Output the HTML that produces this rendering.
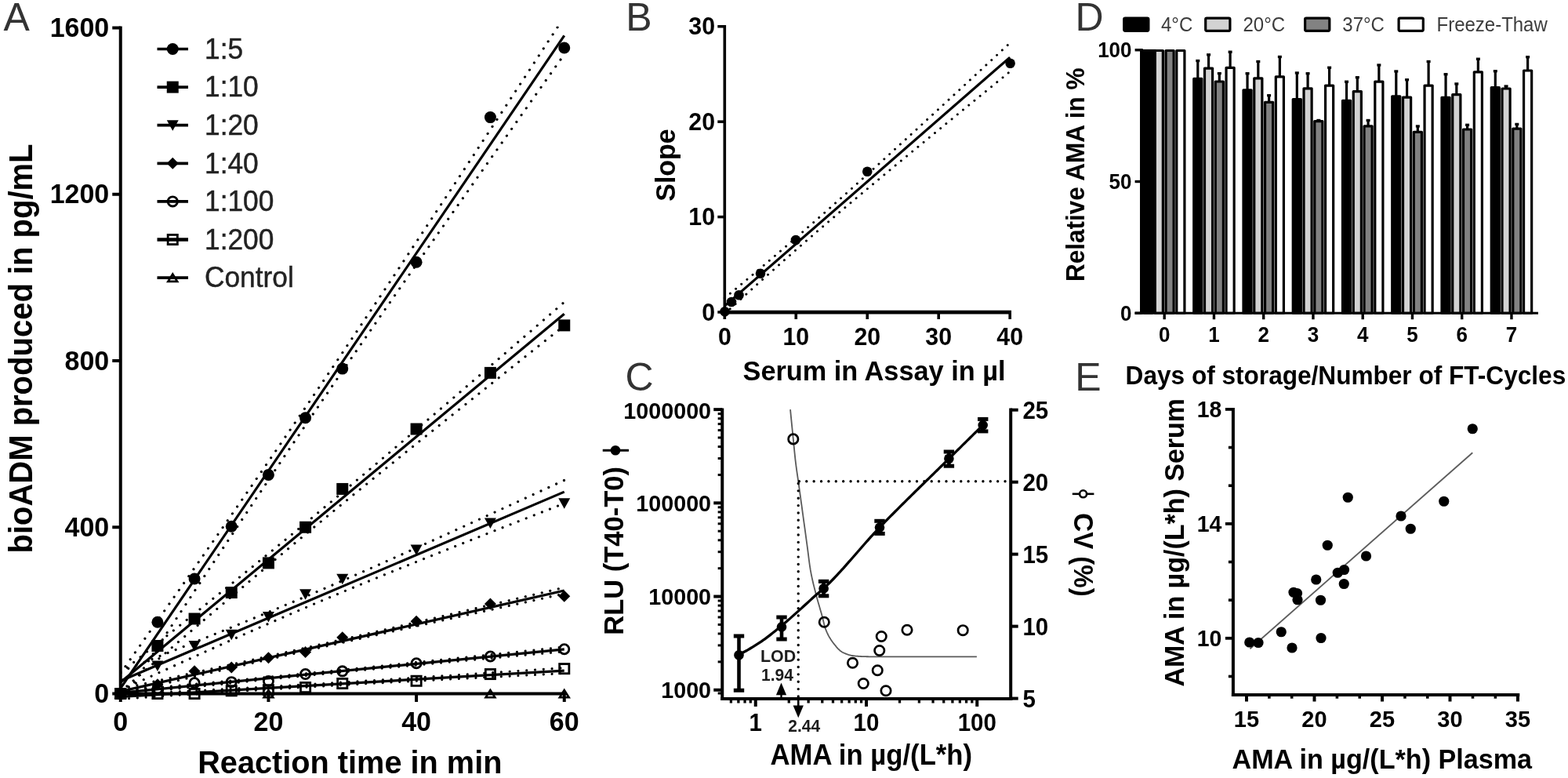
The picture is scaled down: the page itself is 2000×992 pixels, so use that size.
<!DOCTYPE html>
<html lang="en">
<head>
<meta charset="utf-8">
<title>Figure</title>
<style>
html,body{margin:0;padding:0;background:#fff;}
body{width:2000px;height:992px;overflow:hidden;}
svg{display:block;font-family:"Liberation Sans", sans-serif;filter:blur(0.6px);}
</style>
</head>
<body>
<svg width="2000" height="992" viewBox="0 0 2000 992">
<rect x="0" y="0" width="2000" height="992" fill="#fff"/>
<text transform="translate(4.50 39.30) scale(1 0.98)" font-size="50" text-anchor="start" fill="#333">A</text>
<text transform="translate(798.20 39.30) scale(1 0.98)" font-size="50" text-anchor="start" fill="#333">B</text>
<text transform="translate(797.50 497.80) scale(1 0.98)" font-size="50" text-anchor="start" fill="#333">C</text>
<text transform="translate(1371.50 39.30) scale(1 0.98)" font-size="50" text-anchor="start" fill="#333">D</text>
<text transform="translate(1371.30 498.30) scale(1 0.98)" font-size="50" text-anchor="start" fill="#333">E</text>
<clipPath id="clipA"><rect x="150" y="33.5" width="580" height="860"/></clipPath>
<g clip-path="url(#clipA)">
<polyline points="153.75,858.45 163.18,845.06 172.62,831.67 182.05,818.28 191.48,804.87 200.92,791.46 210.35,778.03 219.78,764.59 229.22,751.15 238.65,737.69 248.08,724.21 257.52,710.72 266.95,697.22 276.38,683.70 285.82,670.15 295.25,656.59 304.68,643.01 314.12,629.40 323.55,615.77 332.98,602.12 342.42,588.43 351.85,574.72 361.28,560.97 370.72,547.20 380.15,533.39 389.58,519.55 399.02,505.68 408.45,491.78 417.88,477.84 427.32,463.87 436.75,449.87 446.18,435.84 455.62,421.79 465.05,407.70 474.48,393.59 483.92,379.45 493.35,365.29 502.78,351.11 512.22,336.91 521.65,322.69 531.08,308.45 540.52,294.19 549.95,279.92 559.38,265.64 568.82,251.35 578.25,237.04 587.68,222.72 597.12,208.39 606.55,194.06 615.98,179.71 625.42,165.36 634.85,151.00 644.28,136.63 653.72,122.25 663.15,107.88 672.58,93.49 682.02,79.10 691.45,64.71 700.88,50.31 710.32,35.90 719.75,21.50" fill="none" stroke="#000" stroke-width="3.2" stroke-linecap="round" stroke-linejoin="round" stroke-dasharray="0.01 10.8"/>
<polyline points="153.75,896.99 163.18,882.63 172.62,868.28 182.05,853.93 191.48,839.59 200.92,825.27 210.35,810.95 219.78,796.64 229.22,782.34 238.65,768.06 248.08,753.79 257.52,739.54 266.95,725.30 276.38,711.08 285.82,696.88 295.25,682.70 304.68,668.54 314.12,654.40 323.55,640.29 332.98,626.20 342.42,612.14 351.85,598.11 361.28,584.11 370.72,570.15 380.15,556.21 389.58,542.30 399.02,528.43 408.45,514.59 417.88,500.79 427.32,487.01 436.75,473.27 446.18,459.56 455.62,445.87 465.05,432.21 474.48,418.58 483.92,404.98 493.35,391.39 502.78,377.83 512.22,364.29 521.65,350.77 531.08,337.26 540.52,323.77 549.95,310.30 559.38,296.84 568.82,283.39 578.25,269.96 587.68,256.53 597.12,243.12 606.55,229.71 615.98,216.31 625.42,202.92 634.85,189.54 644.28,176.16 653.72,162.79 663.15,149.43 672.58,136.07 682.02,122.72 691.45,109.37 700.88,96.03 710.32,82.69 719.75,69.35" fill="none" stroke="#000" stroke-width="3.2" stroke-linecap="round" stroke-linejoin="round" stroke-dasharray="0.01 10.8"/>
<line x1="153.75" y1="877.72" x2="719.75" y2="45.42" stroke="#000" stroke-width="3.2" stroke-linecap="butt"/>
<polyline points="153.75,857.90 163.18,850.38 172.62,842.85 182.05,835.32 191.48,827.79 200.92,820.24 210.35,812.69 219.78,805.14 229.22,797.57 238.65,790.00 248.08,782.42 257.52,774.83 266.95,767.24 276.38,759.63 285.82,752.00 295.25,744.37 304.68,736.72 314.12,729.06 323.55,721.38 332.98,713.69 342.42,705.97 351.85,698.24 361.28,690.50 370.72,682.73 380.15,674.94 389.58,667.13 399.02,659.30 408.45,651.45 417.88,643.59 427.32,635.70 436.75,627.79 446.18,619.86 455.62,611.91 465.05,603.95 474.48,595.97 483.92,587.98 493.35,579.97 502.78,571.94 512.22,563.91 521.65,555.86 531.08,547.80 540.52,539.74 549.95,531.66 559.38,523.57 568.82,515.48 578.25,507.38 587.68,499.27 597.12,491.15 606.55,483.03 615.98,474.91 625.42,466.78 634.85,458.64 644.28,450.50 653.72,442.36 663.15,434.21 672.58,426.06 682.02,417.91 691.45,409.75 700.88,401.60 710.32,393.43 719.75,385.27" fill="none" stroke="#000" stroke-width="3.2" stroke-linecap="round" stroke-linejoin="round" stroke-dasharray="0.01 10.8"/>
<polyline points="153.75,882.04 163.18,873.90 172.62,865.77 182.05,857.65 191.48,849.53 200.92,841.41 210.35,833.30 219.78,825.20 229.22,817.11 238.65,809.02 248.08,800.94 257.52,792.88 266.95,784.82 276.38,776.77 285.82,768.74 295.25,760.71 304.68,752.70 314.12,744.71 323.55,736.73 332.98,728.77 342.42,720.82 351.85,712.89 361.28,704.98 370.72,697.09 380.15,689.23 389.58,681.38 399.02,673.55 408.45,665.74 417.88,657.95 427.32,650.18 436.75,642.43 446.18,634.71 455.62,626.99 465.05,619.30 474.48,611.62 483.92,603.96 493.35,596.31 502.78,588.68 512.22,581.05 521.65,573.44 531.08,565.85 540.52,558.26 549.95,550.68 559.38,543.10 568.82,535.54 578.25,527.99 587.68,520.44 597.12,512.89 606.55,505.36 615.98,497.82 625.42,490.30 634.85,482.78 644.28,475.26 653.72,467.74 663.15,460.23 672.58,452.73 682.02,445.22 691.45,437.72 700.88,430.22 710.32,422.73 719.75,415.23" fill="none" stroke="#000" stroke-width="3.2" stroke-linecap="round" stroke-linejoin="round" stroke-dasharray="0.01 10.8"/>
<line x1="153.75" y1="869.97" x2="719.75" y2="400.25" stroke="#000" stroke-width="3.2" stroke-linecap="butt"/>
<polyline points="153.75,856.37 163.18,852.65 172.62,848.93 182.05,845.20 191.48,841.47 200.92,837.73 210.35,833.99 219.78,830.24 229.22,826.48 238.65,822.72 248.08,818.94 257.52,815.16 266.95,811.36 276.38,807.56 285.82,803.75 295.25,799.92 304.68,796.08 314.12,792.22 323.55,788.35 332.98,784.46 342.42,780.56 351.85,776.64 361.28,772.70 370.72,768.74 380.15,764.76 389.58,760.76 399.02,756.74 408.45,752.70 417.88,748.64 427.32,744.56 436.75,740.46 446.18,736.35 455.62,732.21 465.05,728.06 474.48,723.89 483.92,719.71 493.35,715.51 502.78,711.30 512.22,707.08 521.65,702.84 531.08,698.59 540.52,694.34 549.95,690.07 559.38,685.80 568.82,681.52 578.25,677.23 587.68,672.94 597.12,668.64 606.55,664.33 615.98,660.02 625.42,655.70 634.85,651.38 644.28,647.05 653.72,642.72 663.15,638.39 672.58,634.05 682.02,629.71 691.45,625.37 700.88,621.03 710.32,616.68 719.75,612.33" fill="none" stroke="#000" stroke-width="3.2" stroke-linecap="round" stroke-linejoin="round" stroke-dasharray="0.01 10.8"/>
<polyline points="153.75,880.17 163.18,875.85 172.62,871.53 182.05,867.22 191.48,862.91 200.92,858.61 210.35,854.31 219.78,850.03 229.22,845.74 238.65,841.47 248.08,837.21 257.52,832.95 266.95,828.70 276.38,824.47 285.82,820.25 295.25,816.04 304.68,811.84 314.12,807.65 323.55,803.49 332.98,799.33 342.42,795.20 351.85,791.08 361.28,786.98 370.72,782.91 380.15,778.85 389.58,774.81 399.02,770.79 408.45,766.79 417.88,762.81 427.32,758.85 436.75,754.91 446.18,750.99 455.62,747.08 465.05,743.20 474.48,739.32 483.92,735.47 493.35,731.63 502.78,727.80 512.22,723.98 521.65,720.18 531.08,716.39 540.52,712.60 549.95,708.83 559.38,705.06 568.82,701.31 578.25,697.56 587.68,693.81 597.12,690.08 606.55,686.34 615.98,682.62 625.42,678.89 634.85,675.18 644.28,671.46 653.72,667.76 663.15,664.05 672.58,660.35 682.02,656.65 691.45,652.95 700.88,649.26 710.32,645.57 719.75,641.88" fill="none" stroke="#000" stroke-width="3.2" stroke-linecap="round" stroke-linejoin="round" stroke-dasharray="0.01 10.8"/>
<line x1="153.75" y1="868.27" x2="719.75" y2="627.10" stroke="#000" stroke-width="3.2" stroke-linecap="butt"/>
<polyline points="153.75,878.38 163.18,876.32 172.62,874.26 182.05,872.19 191.48,870.13 200.92,868.06 210.35,866.00 219.78,863.93 229.22,861.85 238.65,859.78 248.08,857.71 257.52,855.63 266.95,853.55 276.38,851.46 285.82,849.37 295.25,847.28 304.68,845.19 314.12,843.09 323.55,840.99 332.98,838.88 342.42,836.77 351.85,834.65 361.28,832.53 370.72,830.41 380.15,828.28 389.58,826.14 399.02,823.99 408.45,821.85 417.88,819.69 427.32,817.53 436.75,815.37 446.18,813.20 455.62,811.03 465.05,808.85 474.48,806.66 483.92,804.48 493.35,802.28 502.78,800.09 512.22,797.89 521.65,795.69 531.08,793.49 540.52,791.28 549.95,789.07 559.38,786.86 568.82,784.64 578.25,782.43 587.68,780.21 597.12,777.99 606.55,775.77 615.98,773.54 625.42,771.32 634.85,769.10 644.28,766.87 653.72,764.64 663.15,762.41 672.58,760.18 682.02,757.95 691.45,755.72 700.88,753.49 710.32,751.26 719.75,749.03" fill="none" stroke="#000" stroke-width="3.2" stroke-linecap="round" stroke-linejoin="round" stroke-dasharray="0.01 10.8"/>
<polyline points="153.75,884.86 163.18,882.64 172.62,880.42 182.05,878.19 191.48,875.97 200.92,873.75 210.35,871.53 219.78,869.32 229.22,867.10 238.65,864.89 248.08,862.68 257.52,860.48 266.95,858.27 276.38,856.07 285.82,853.87 295.25,851.68 304.68,849.48 314.12,847.30 323.55,845.11 332.98,842.93 342.42,840.76 351.85,838.59 361.28,836.43 370.72,834.27 380.15,832.11 389.58,829.97 399.02,827.82 408.45,825.69 417.88,823.55 427.32,821.43 436.75,819.31 446.18,817.19 455.62,815.08 465.05,812.97 474.48,810.87 483.92,808.77 493.35,806.68 502.78,804.59 512.22,802.50 521.65,800.41 531.08,798.33 540.52,796.26 549.95,794.18 559.38,792.11 568.82,790.03 578.25,787.96 587.68,785.90 597.12,783.83 606.55,781.77 615.98,779.70 625.42,777.64 634.85,775.58 644.28,773.52 653.72,771.46 663.15,769.41 672.58,767.35 682.02,765.29 691.45,763.24 700.88,761.18 710.32,759.13 719.75,757.08" fill="none" stroke="#000" stroke-width="3.2" stroke-linecap="round" stroke-linejoin="round" stroke-dasharray="0.01 10.8"/>
<line x1="153.75" y1="881.62" x2="719.75" y2="753.05" stroke="#000" stroke-width="3.2" stroke-linecap="butt"/>
<polyline points="153.75,881.02 163.18,880.16 172.62,879.29 182.05,878.42 191.48,877.55 200.92,876.68 210.35,875.81 219.78,874.94 229.22,874.06 238.65,873.19 248.08,872.31 257.52,871.43 266.95,870.55 276.38,869.67 285.82,868.78 295.25,867.89 304.68,867.00 314.12,866.11 323.55,865.21 332.98,864.31 342.42,863.41 351.85,862.51 361.28,861.60 370.72,860.68 380.15,859.76 389.58,858.84 399.02,857.92 408.45,856.99 417.88,856.06 427.32,855.12 436.75,854.18 446.18,853.24 455.62,852.29 465.05,851.34 474.48,850.38 483.92,849.43 493.35,848.47 502.78,847.50 512.22,846.54 521.65,845.57 531.08,844.60 540.52,843.63 549.95,842.66 559.38,841.68 568.82,840.71 578.25,839.73 587.68,838.75 597.12,837.77 606.55,836.79 615.98,835.81 625.42,834.83 634.85,833.84 644.28,832.86 653.72,831.87 663.15,830.89 672.58,829.90 682.02,828.91 691.45,827.92 700.88,826.94 710.32,825.95 719.75,824.96" fill="none" stroke="#000" stroke-width="3.2" stroke-linecap="round" stroke-linejoin="round" stroke-dasharray="0.01 10.8"/>
<polyline points="153.75,885.65 163.18,884.67 172.62,883.68 182.05,882.70 191.48,881.72 200.92,880.74 210.35,879.76 219.78,878.78 229.22,877.81 238.65,876.83 248.08,875.86 257.52,874.89 266.95,873.92 276.38,872.95 285.82,871.99 295.25,871.03 304.68,870.07 314.12,869.11 323.55,868.16 332.98,867.21 342.42,866.26 351.85,865.31 361.28,864.37 370.72,863.44 380.15,862.50 389.58,861.57 399.02,860.65 408.45,859.73 417.88,858.81 427.32,857.90 436.75,856.99 446.18,856.08 455.62,855.18 465.05,854.28 474.48,853.38 483.92,852.49 493.35,851.60 502.78,850.71 512.22,849.83 521.65,848.94 531.08,848.06 540.52,847.18 549.95,846.30 559.38,845.43 568.82,844.55 578.25,843.68 587.68,842.81 597.12,841.94 606.55,841.07 615.98,840.20 625.42,839.34 634.85,838.47 644.28,837.60 653.72,836.74 663.15,835.87 672.58,835.01 682.02,834.15 691.45,833.29 700.88,832.42 710.32,831.56 719.75,830.70" fill="none" stroke="#000" stroke-width="3.2" stroke-linecap="round" stroke-linejoin="round" stroke-dasharray="0.01 10.8"/>
<line x1="153.75" y1="883.34" x2="719.75" y2="827.83" stroke="#000" stroke-width="3.2" stroke-linecap="butt"/>
<polyline points="153.75,885.66 163.18,885.17 172.62,884.68 182.05,884.20 191.48,883.71 200.92,883.22 210.35,882.72 219.78,882.23 229.22,881.73 238.65,881.24 248.08,880.74 257.52,880.24 266.95,879.73 276.38,879.23 285.82,878.72 295.25,878.21 304.68,877.69 314.12,877.17 323.55,876.65 332.98,876.12 342.42,875.59 351.85,875.06 361.28,874.52 370.72,873.98 380.15,873.43 389.58,872.88 399.02,872.32 408.45,871.76 417.88,871.19 427.32,870.62 436.75,870.05 446.18,869.47 455.62,868.88 465.05,868.30 474.48,867.70 483.92,867.11 493.35,866.51 502.78,865.91 512.22,865.30 521.65,864.69 531.08,864.08 540.52,863.47 549.95,862.86 559.38,862.24 568.82,861.62 578.25,861.00 587.68,860.38 597.12,859.76 606.55,859.13 615.98,858.51 625.42,857.88 634.85,857.25 644.28,856.62 653.72,855.99 663.15,855.36 672.58,854.73 682.02,854.10 691.45,853.46 700.88,852.83 710.32,852.20 719.75,851.56" fill="none" stroke="#000" stroke-width="3.2" stroke-linecap="round" stroke-linejoin="round" stroke-dasharray="0.01 10.8"/>
<polyline points="153.75,891.26 163.18,890.63 172.62,890.00 182.05,889.38 191.48,888.75 200.92,888.13 210.35,887.51 219.78,886.89 229.22,886.27 238.65,885.65 248.08,885.04 257.52,884.42 266.95,883.81 276.38,883.21 285.82,882.60 295.25,882.00 304.68,881.40 314.12,880.80 323.55,880.21 332.98,879.62 342.42,879.04 351.85,878.46 361.28,877.88 370.72,877.31 380.15,876.75 389.58,876.19 399.02,875.63 408.45,875.08 417.88,874.53 427.32,873.99 436.75,873.45 446.18,872.91 455.62,872.38 465.05,871.86 474.48,871.34 483.92,870.82 493.35,870.30 502.78,869.79 512.22,869.28 521.65,868.77 531.08,868.27 540.52,867.77 549.95,867.27 559.38,866.77 568.82,866.28 578.25,865.78 587.68,865.29 597.12,864.80 606.55,864.31 615.98,863.82 625.42,863.34 634.85,862.85 644.28,862.37 653.72,861.88 663.15,861.40 672.58,860.92 682.02,860.44 691.45,859.95 700.88,859.47 710.32,858.99 719.75,858.51" fill="none" stroke="#000" stroke-width="3.2" stroke-linecap="round" stroke-linejoin="round" stroke-dasharray="0.01 10.8"/>
<line x1="153.75" y1="888.46" x2="719.75" y2="855.04" stroke="#000" stroke-width="3.2" stroke-linecap="butt"/>
<line x1="153.75" y1="884.50" x2="719.75" y2="884.50" stroke="#000" stroke-width="3.2" stroke-linecap="butt"/>
</g>
<circle cx="153.75" cy="884.50" r="7.5" fill="#000" stroke="none" stroke-width="0"/>
<circle cx="200.92" cy="793.23" r="7.5" fill="#000" stroke="none" stroke-width="0"/>
<circle cx="248.08" cy="738.05" r="7.5" fill="#000" stroke="none" stroke-width="0"/>
<circle cx="295.25" cy="671.19" r="7.5" fill="#000" stroke="none" stroke-width="0"/>
<circle cx="342.42" cy="605.39" r="7.5" fill="#000" stroke="none" stroke-width="0"/>
<circle cx="389.58" cy="532.70" r="7.5" fill="#000" stroke="none" stroke-width="0"/>
<circle cx="436.75" cy="470.08" r="7.5" fill="#000" stroke="none" stroke-width="0"/>
<circle cx="531.08" cy="334.24" r="7.5" fill="#000" stroke="none" stroke-width="0"/>
<circle cx="625.42" cy="149.58" r="7.5" fill="#000" stroke="none" stroke-width="0"/>
<circle cx="719.75" cy="60.97" r="7.5" fill="#000" stroke="none" stroke-width="0"/>
<rect x="146.25" y="877.00" width="15.00" height="15.00" fill="#000" stroke="none" stroke-width="0" rx="0"/>
<rect x="193.42" y="815.98" width="15.00" height="15.00" fill="#000" stroke="none" stroke-width="0" rx="0"/>
<rect x="240.58" y="781.49" width="15.00" height="15.00" fill="#000" stroke="none" stroke-width="0" rx="0"/>
<rect x="287.75" y="748.06" width="15.00" height="15.00" fill="#000" stroke="none" stroke-width="0" rx="0"/>
<rect x="334.92" y="710.38" width="15.00" height="15.00" fill="#000" stroke="none" stroke-width="0" rx="0"/>
<rect x="382.08" y="664.75" width="15.00" height="15.00" fill="#000" stroke="none" stroke-width="0" rx="0"/>
<rect x="429.25" y="615.93" width="15.00" height="15.00" fill="#000" stroke="none" stroke-width="0" rx="0"/>
<rect x="523.58" y="539.52" width="15.00" height="15.00" fill="#000" stroke="none" stroke-width="0" rx="0"/>
<rect x="617.92" y="467.89" width="15.00" height="15.00" fill="#000" stroke="none" stroke-width="0" rx="0"/>
<rect x="712.25" y="407.40" width="15.00" height="15.00" fill="#000" stroke="none" stroke-width="0" rx="0"/>
<polygon points="146.25,878.12 161.25,878.12 153.75,891.62" fill="#000" stroke="none" stroke-width="0" stroke-linejoin="miter"/>
<polygon points="193.42,842.57 208.42,842.57 200.92,856.07" fill="#000" stroke="none" stroke-width="0" stroke-linejoin="miter"/>
<polygon points="240.58,817.10 255.58,817.10 248.08,830.60" fill="#000" stroke="none" stroke-width="0" stroke-linejoin="miter"/>
<polygon points="287.75,802.78 302.75,802.78 295.25,816.28" fill="#000" stroke="none" stroke-width="0" stroke-linejoin="miter"/>
<polygon points="334.92,779.96 349.92,779.96 342.42,793.46" fill="#000" stroke="none" stroke-width="0" stroke-linejoin="miter"/>
<polygon points="382.08,751.31 397.08,751.31 389.58,764.81" fill="#000" stroke="none" stroke-width="0" stroke-linejoin="miter"/>
<polygon points="429.25,731.67 444.25,731.67 436.75,745.17" fill="#000" stroke="none" stroke-width="0" stroke-linejoin="miter"/>
<polygon points="523.58,694.53 538.58,694.53 531.08,708.03" fill="#000" stroke="none" stroke-width="0" stroke-linejoin="miter"/>
<polygon points="617.92,660.57 632.92,660.57 625.42,674.07" fill="#000" stroke="none" stroke-width="0" stroke-linejoin="miter"/>
<polygon points="712.25,635.36 727.25,635.36 719.75,648.86" fill="#000" stroke="none" stroke-width="0" stroke-linejoin="miter"/>
<polygon points="146.25,884.50 153.75,877.00 161.25,884.50 153.75,892.00" fill="#000" stroke="none" stroke-width="0" stroke-linejoin="miter"/>
<polygon points="193.42,872.83 200.92,865.33 208.42,872.83 200.92,880.33" fill="#000" stroke="none" stroke-width="0" stroke-linejoin="miter"/>
<polygon points="240.58,855.85 248.08,848.35 255.58,855.85 248.08,863.35" fill="#000" stroke="none" stroke-width="0" stroke-linejoin="miter"/>
<polygon points="287.75,851.07 295.25,843.57 302.75,851.07 295.25,858.57" fill="#000" stroke="none" stroke-width="0" stroke-linejoin="miter"/>
<polygon points="334.92,838.87 342.42,831.37 349.92,838.87 342.42,846.37" fill="#000" stroke="none" stroke-width="0" stroke-linejoin="miter"/>
<polygon points="382.08,831.44 389.58,823.94 397.08,831.44 389.58,838.94" fill="#000" stroke="none" stroke-width="0" stroke-linejoin="miter"/>
<polygon points="429.25,812.87 436.75,805.37 444.25,812.87 436.75,820.37" fill="#000" stroke="none" stroke-width="0" stroke-linejoin="miter"/>
<polygon points="523.58,792.17 531.08,784.67 538.58,792.17 531.08,799.67" fill="#000" stroke="none" stroke-width="0" stroke-linejoin="miter"/>
<polygon points="617.92,769.88 625.42,762.38 632.92,769.88 625.42,777.38" fill="#000" stroke="none" stroke-width="0" stroke-linejoin="miter"/>
<polygon points="712.25,760.33 719.75,752.83 727.25,760.33 719.75,767.83" fill="#000" stroke="none" stroke-width="0" stroke-linejoin="miter"/>
<circle cx="153.75" cy="884.50" r="6.1" fill="none" stroke="#000" stroke-width="2.8"/>
<circle cx="200.92" cy="878.13" r="6.1" fill="none" stroke="#000" stroke-width="2.8"/>
<circle cx="248.08" cy="870.70" r="6.1" fill="none" stroke="#000" stroke-width="2.8"/>
<circle cx="295.25" cy="869.64" r="6.1" fill="none" stroke="#000" stroke-width="2.8"/>
<circle cx="342.42" cy="868.58" r="6.1" fill="none" stroke="#000" stroke-width="2.8"/>
<circle cx="389.58" cy="859.56" r="6.1" fill="none" stroke="#000" stroke-width="2.8"/>
<circle cx="436.75" cy="855.85" r="6.1" fill="none" stroke="#000" stroke-width="2.8"/>
<circle cx="531.08" cy="845.76" r="6.1" fill="none" stroke="#000" stroke-width="2.8"/>
<circle cx="625.42" cy="837.01" r="6.1" fill="none" stroke="#000" stroke-width="2.8"/>
<circle cx="719.75" cy="827.72" r="6.1" fill="none" stroke="#000" stroke-width="2.8"/>
<rect x="147.65" y="878.40" width="12.20" height="12.20" fill="none" stroke="#000" stroke-width="2.8" rx="0"/>
<rect x="194.82" y="878.40" width="12.20" height="12.20" fill="none" stroke="#000" stroke-width="2.8" rx="0"/>
<rect x="241.98" y="878.40" width="12.20" height="12.20" fill="none" stroke="#000" stroke-width="2.8" rx="0"/>
<rect x="289.15" y="874.69" width="12.20" height="12.20" fill="none" stroke="#000" stroke-width="2.8" rx="0"/>
<rect x="336.32" y="873.62" width="12.20" height="12.20" fill="none" stroke="#000" stroke-width="2.8" rx="0"/>
<rect x="383.48" y="870.44" width="12.20" height="12.20" fill="none" stroke="#000" stroke-width="2.8" rx="0"/>
<rect x="430.65" y="865.40" width="12.20" height="12.20" fill="none" stroke="#000" stroke-width="2.8" rx="0"/>
<rect x="524.98" y="862.16" width="12.20" height="12.20" fill="none" stroke="#000" stroke-width="2.8" rx="0"/>
<rect x="619.32" y="853.46" width="12.20" height="12.20" fill="none" stroke="#000" stroke-width="2.8" rx="0"/>
<rect x="713.65" y="846.56" width="12.20" height="12.20" fill="none" stroke="#000" stroke-width="2.8" rx="0"/>
<polygon points="147.85,889.30 159.65,889.30 153.75,879.95" fill="none" stroke="#000" stroke-width="2.6" stroke-linejoin="miter"/>
<polygon points="336.52,889.30 348.32,889.30 342.42,879.95" fill="none" stroke="#000" stroke-width="2.6" stroke-linejoin="miter"/>
<polygon points="619.52,889.30 631.32,889.30 625.42,879.95" fill="none" stroke="#000" stroke-width="2.6" stroke-linejoin="miter"/>
<polygon points="713.85,889.30 725.65,889.30 719.75,879.95" fill="none" stroke="#000" stroke-width="2.6" stroke-linejoin="miter"/>
<line x1="153.75" y1="33.50" x2="153.75" y2="886.50" stroke="#000" stroke-width="4" stroke-linecap="butt"/>
<line x1="151.75" y1="884.50" x2="721.75" y2="884.50" stroke="#000" stroke-width="4" stroke-linecap="butt"/>
<line x1="143.25" y1="884.50" x2="153.75" y2="884.50" stroke="#000" stroke-width="4" stroke-linecap="butt"/>
<text transform="translate(139.25 896.00) scale(1 1.04)" font-size="34" font-weight="bold" text-anchor="end" fill="#000">0</text>
<line x1="143.25" y1="672.25" x2="153.75" y2="672.25" stroke="#000" stroke-width="4" stroke-linecap="butt"/>
<text transform="translate(139.25 683.75) scale(1 1.04)" font-size="34" font-weight="bold" text-anchor="end" fill="#000">400</text>
<line x1="143.25" y1="460.00" x2="153.75" y2="460.00" stroke="#000" stroke-width="4" stroke-linecap="butt"/>
<text transform="translate(139.25 471.50) scale(1 1.04)" font-size="34" font-weight="bold" text-anchor="end" fill="#000">800</text>
<line x1="143.25" y1="247.75" x2="153.75" y2="247.75" stroke="#000" stroke-width="4" stroke-linecap="butt"/>
<text transform="translate(139.25 259.25) scale(1 1.04)" font-size="34" font-weight="bold" text-anchor="end" fill="#000">1200</text>
<line x1="143.25" y1="35.50" x2="153.75" y2="35.50" stroke="#000" stroke-width="4" stroke-linecap="butt"/>
<text transform="translate(139.25 47.00) scale(1 1.04)" font-size="34" font-weight="bold" text-anchor="end" fill="#000">1600</text>
<line x1="153.75" y1="884.50" x2="153.75" y2="895.00" stroke="#000" stroke-width="4" stroke-linecap="butt"/>
<text transform="translate(153.75 931.50) scale(1 1.04)" font-size="34" font-weight="bold" text-anchor="middle" fill="#000">0</text>
<line x1="342.42" y1="884.50" x2="342.42" y2="895.00" stroke="#000" stroke-width="4" stroke-linecap="butt"/>
<text transform="translate(342.42 931.50) scale(1 1.04)" font-size="34" font-weight="bold" text-anchor="middle" fill="#000">20</text>
<line x1="531.08" y1="884.50" x2="531.08" y2="895.00" stroke="#000" stroke-width="4" stroke-linecap="butt"/>
<text transform="translate(531.08 931.50) scale(1 1.04)" font-size="34" font-weight="bold" text-anchor="middle" fill="#000">40</text>
<line x1="719.75" y1="884.50" x2="719.75" y2="895.00" stroke="#000" stroke-width="4" stroke-linecap="butt"/>
<text transform="translate(719.75 931.50) scale(1 1.04)" font-size="34" font-weight="bold" text-anchor="middle" fill="#000">60</text>
<text transform="translate(41.00 444.50) rotate(-90) scale(1 1.04)" font-size="40" font-weight="bold" text-anchor="middle" fill="#000">bioADM produced in pg/mL</text>
<text transform="translate(446.30 986.40) scale(1 1.04)" font-size="39.7" font-weight="bold" text-anchor="middle" fill="#000">Reaction time in min</text>
<line x1="200.50" y1="62.50" x2="240.00" y2="62.50" stroke="#000" stroke-width="3.7" stroke-linecap="butt"/>
<circle cx="220.25" cy="62.50" r="7.5" fill="#000" stroke="none" stroke-width="0"/>
<text transform="translate(261.00 74.80) scale(1 1.025)" font-size="35.3" text-anchor="start" fill="#222" stroke="#222" stroke-width="0.45">1:5</text>
<line x1="200.50" y1="111.10" x2="240.00" y2="111.10" stroke="#000" stroke-width="3.7" stroke-linecap="butt"/>
<rect x="212.75" y="103.60" width="15.00" height="15.00" fill="#000" stroke="none" stroke-width="0" rx="0"/>
<text transform="translate(261.00 123.40) scale(1 1.025)" font-size="35.3" text-anchor="start" fill="#222" stroke="#222" stroke-width="0.45">1:10</text>
<line x1="200.50" y1="159.70" x2="240.00" y2="159.70" stroke="#000" stroke-width="3.7" stroke-linecap="butt"/>
<polygon points="212.75,153.32 227.75,153.32 220.25,166.82" fill="#000" stroke="none" stroke-width="0" stroke-linejoin="miter"/>
<text transform="translate(261.00 172.00) scale(1 1.025)" font-size="35.3" text-anchor="start" fill="#222" stroke="#222" stroke-width="0.45">1:20</text>
<line x1="200.50" y1="208.30" x2="240.00" y2="208.30" stroke="#000" stroke-width="3.7" stroke-linecap="butt"/>
<polygon points="212.75,208.30 220.25,200.80 227.75,208.30 220.25,215.80" fill="#000" stroke="none" stroke-width="0" stroke-linejoin="miter"/>
<text transform="translate(261.00 220.60) scale(1 1.025)" font-size="35.3" text-anchor="start" fill="#222" stroke="#222" stroke-width="0.45">1:40</text>
<line x1="200.50" y1="256.90" x2="240.00" y2="256.90" stroke="#000" stroke-width="3.7" stroke-linecap="butt"/>
<circle cx="220.25" cy="256.90" r="6.1" fill="none" stroke="#000" stroke-width="2.8"/>
<text transform="translate(261.00 269.20) scale(1 1.025)" font-size="35.3" text-anchor="start" fill="#222" stroke="#222" stroke-width="0.45">1:100</text>
<line x1="200.50" y1="305.50" x2="240.00" y2="305.50" stroke="#000" stroke-width="4.6" stroke-linecap="butt"/>
<rect x="214.15" y="299.40" width="12.20" height="12.20" fill="none" stroke="#000" stroke-width="2.8" rx="0"/>
<text transform="translate(261.00 317.80) scale(1 1.025)" font-size="35.3" text-anchor="start" fill="#222" stroke="#222" stroke-width="0.45">1:200</text>
<line x1="200.50" y1="354.10" x2="240.00" y2="354.10" stroke="#000" stroke-width="3.7" stroke-linecap="butt"/>
<polygon points="214.35,358.90 226.15,358.90 220.25,349.55" fill="none" stroke="#000" stroke-width="2.6" stroke-linejoin="miter"/>
<text transform="translate(261.00 366.40) scale(1 1.025)" font-size="35.3" text-anchor="start" fill="#222" stroke="#222" stroke-width="0.45">Control</text>
<polyline points="924.30,380.15 933.40,372.57 942.50,364.98 951.59,357.37 960.69,349.72 969.79,342.05 978.88,334.35 987.98,326.61 997.08,318.83 1006.18,311.02 1015.27,303.16 1024.37,295.26 1033.47,287.32 1042.57,279.33 1051.66,271.31 1060.76,263.24 1069.86,255.14 1078.96,247.00 1088.06,238.83 1097.15,230.62 1106.25,222.39 1115.35,214.14 1124.44,205.86 1133.54,197.57 1142.64,189.25 1151.74,180.92 1160.84,172.57 1169.93,164.21 1179.03,155.84 1188.13,147.46 1197.22,139.07 1206.32,130.68 1215.42,122.27 1224.52,113.86 1233.62,105.44 1242.71,97.01 1251.81,88.59 1260.91,80.15 1270.01,71.71 1279.10,63.27 1288.20,54.83" fill="none" stroke="#000" stroke-width="3.0" stroke-linecap="round" stroke-linejoin="round" stroke-dasharray="0.01 9.3"/>
<polyline points="924.30,400.16 933.40,391.88 942.50,383.62 951.59,375.38 960.69,367.17 969.79,358.99 978.88,350.84 987.98,342.73 997.08,334.65 1006.18,326.61 1015.27,318.62 1024.37,310.66 1033.47,302.75 1042.57,294.88 1051.66,287.05 1060.76,279.27 1069.86,271.52 1078.96,263.80 1088.06,256.12 1097.15,248.47 1106.25,240.85 1115.35,233.25 1124.44,225.67 1133.54,218.12 1142.64,210.58 1151.74,203.06 1160.84,195.55 1169.93,188.05 1179.03,180.57 1188.13,173.10 1197.22,165.64 1206.32,158.18 1215.42,150.73 1224.52,143.29 1233.62,135.86 1242.71,128.43 1251.81,121.00 1260.91,113.58 1270.01,106.17 1279.10,98.76 1288.20,91.35" fill="none" stroke="#000" stroke-width="3.0" stroke-linecap="round" stroke-linejoin="round" stroke-dasharray="0.01 9.3"/>
<line x1="924.30" y1="390.15" x2="1288.20" y2="73.09" stroke="#000" stroke-width="3.2" stroke-linecap="butt"/>
<circle cx="924.50" cy="397.25" r="6.3" fill="#000" stroke="none" stroke-width="0"/>
<circle cx="933.00" cy="385.00" r="6.3" fill="#000" stroke="none" stroke-width="0"/>
<circle cx="942.50" cy="376.25" r="6.3" fill="#000" stroke="none" stroke-width="0"/>
<circle cx="970.00" cy="348.75" r="6.3" fill="#000" stroke="none" stroke-width="0"/>
<circle cx="1015.00" cy="306.00" r="6.3" fill="#000" stroke="none" stroke-width="0"/>
<circle cx="1106.25" cy="218.75" r="6.3" fill="#000" stroke="none" stroke-width="0"/>
<circle cx="1288.60" cy="80.80" r="6.3" fill="#000" stroke="none" stroke-width="0"/>
<line x1="924.30" y1="32.00" x2="924.30" y2="400.40" stroke="#000" stroke-width="3.6" stroke-linecap="butt"/>
<line x1="922.50" y1="398.10" x2="1290.00" y2="398.10" stroke="#000" stroke-width="4.6" stroke-linecap="butt"/>
<line x1="915.30" y1="398.00" x2="924.30" y2="398.00" stroke="#000" stroke-width="3.5" stroke-linecap="butt"/>
<text transform="translate(912.00 408.60) scale(1 1.04)" font-size="30.3" font-weight="bold" text-anchor="end" fill="#000">0</text>
<line x1="915.30" y1="276.58" x2="924.30" y2="276.58" stroke="#000" stroke-width="3.5" stroke-linecap="butt"/>
<text transform="translate(912.00 287.18) scale(1 1.04)" font-size="30.3" font-weight="bold" text-anchor="end" fill="#000">10</text>
<line x1="915.30" y1="155.17" x2="924.30" y2="155.17" stroke="#000" stroke-width="3.5" stroke-linecap="butt"/>
<text transform="translate(912.00 165.77) scale(1 1.04)" font-size="30.3" font-weight="bold" text-anchor="end" fill="#000">20</text>
<line x1="915.30" y1="33.75" x2="924.30" y2="33.75" stroke="#000" stroke-width="3.5" stroke-linecap="butt"/>
<text transform="translate(912.00 44.35) scale(1 1.04)" font-size="30.3" font-weight="bold" text-anchor="end" fill="#000">30</text>
<line x1="924.30" y1="398.00" x2="924.30" y2="407.00" stroke="#000" stroke-width="3.6" stroke-linecap="butt"/>
<text transform="translate(924.30 439.60) scale(1 1.04)" font-size="30.3" font-weight="bold" text-anchor="middle" fill="#000">0</text>
<line x1="1015.27" y1="398.00" x2="1015.27" y2="407.00" stroke="#000" stroke-width="3.6" stroke-linecap="butt"/>
<text transform="translate(1015.27 439.60) scale(1 1.04)" font-size="30.3" font-weight="bold" text-anchor="middle" fill="#000">10</text>
<line x1="1106.25" y1="398.00" x2="1106.25" y2="407.00" stroke="#000" stroke-width="3.6" stroke-linecap="butt"/>
<text transform="translate(1106.25 439.60) scale(1 1.04)" font-size="30.3" font-weight="bold" text-anchor="middle" fill="#000">20</text>
<line x1="1197.22" y1="398.00" x2="1197.22" y2="407.00" stroke="#000" stroke-width="3.6" stroke-linecap="butt"/>
<text transform="translate(1197.22 439.60) scale(1 1.04)" font-size="30.3" font-weight="bold" text-anchor="middle" fill="#000">30</text>
<line x1="1288.20" y1="398.00" x2="1288.20" y2="407.00" stroke="#000" stroke-width="3.6" stroke-linecap="butt"/>
<text transform="translate(1288.20 439.60) scale(1 1.04)" font-size="30.3" font-weight="bold" text-anchor="middle" fill="#000">40</text>
<text transform="translate(861.00 210.50) rotate(-90) scale(1 1.04)" font-size="34" font-weight="bold" text-anchor="middle" fill="#000">Slope</text>
<text transform="translate(1115.00 485.00) scale(1 1.04)" font-size="34.3" font-weight="bold" text-anchor="middle" fill="#000">Serum in Assay in µl</text>
<polyline points="1008.05,522.20 1008.97,531.56 1009.89,540.84 1010.81,550.03 1011.72,559.14 1012.64,568.39 1013.56,577.69 1014.48,586.38 1015.40,593.93 1016.32,600.56 1017.23,606.78 1018.15,613.10 1019.07,619.69 1019.99,626.30 1020.91,632.92 1021.83,639.56 1022.74,646.21 1023.66,652.88 1024.58,659.56 1025.50,666.26 1026.42,672.97 1027.34,679.69 1028.25,686.42 1029.17,693.17 1030.09,699.93 1031.01,707.02 1031.93,714.33 1032.85,721.19 1033.76,726.92 1034.68,731.84 1035.60,736.34 1036.52,740.51 1037.44,744.42 1038.36,748.14 1039.27,751.75 1040.19,755.32 1041.11,758.91 1042.03,762.38 1042.95,765.71 1043.87,768.94 1044.78,772.10 1045.70,775.23 1046.62,778.38 1047.54,781.59 1048.46,784.88 1049.38,788.40 1050.29,792.20 1051.21,795.96 1052.13,799.37 1053.05,802.13 1053.97,804.41 1054.89,806.53 1055.80,808.49 1056.72,810.32 1057.64,812.02 1058.56,813.60 1059.48,815.08 1060.40,816.46 1061.31,817.77 1062.23,819.01 1063.15,820.22 1064.07,821.40 1064.99,822.56 1065.91,823.69 1066.82,824.78 1067.74,825.82 1068.66,826.82 1069.58,827.76 1070.50,828.64 1071.42,829.45 1072.33,830.19 1073.25,830.86 1074.17,831.45 1075.09,831.95 1076.01,832.38 1076.93,832.80 1077.84,833.20 1078.76,833.58 1079.68,833.94 1080.60,834.28 1081.52,834.60 1082.44,834.90 1083.35,835.17 1084.27,835.41 1085.19,835.63 1086.11,835.83 1087.03,835.99 1087.95,836.13 1088.86,836.24 1089.78,836.34 1090.70,836.44 1091.62,836.53 1092.54,836.62 1093.46,836.70 1094.37,836.77 1095.29,836.84 1096.21,836.91 1097.13,836.97 1098.05,837.02 1098.97,837.07 1099.88,837.11 1100.80,837.14 1101.72,837.17 1102.64,837.19 1103.56,837.21 1104.48,837.22 1105.39,837.24 1106.31,837.25 1107.23,837.27 1108.15,837.28 1109.07,837.29 1109.99,837.30 1110.90,837.31 1111.82,837.32 1112.74,837.33 1113.66,837.34 1114.58,837.35 1115.50,837.36 1116.41,837.37 1117.33,837.37 1118.25,837.38 1119.17,837.38 1120.09,837.39 1121.01,837.39 1121.92,837.40 1122.84,837.40 1123.76,837.40 1124.68,837.40 1125.60,837.40 1126.52,837.40 1127.43,837.40 1128.35,837.40 1129.27,837.40 1130.19,837.40 1131.11,837.40 1132.03,837.40 1132.94,837.40 1133.86,837.40 1134.78,837.40 1135.70,837.40 1136.62,837.40 1137.54,837.40 1138.45,837.40 1139.37,837.40 1140.29,837.40 1141.21,837.40 1142.13,837.40 1143.05,837.40 1143.96,837.40 1144.88,837.40 1145.80,837.40 1146.72,837.40 1147.64,837.40 1148.56,837.40 1149.47,837.40 1150.39,837.40 1151.31,837.40 1152.23,837.40 1153.15,837.40 1154.07,837.40 1154.98,837.40 1155.90,837.40 1156.82,837.40 1157.74,837.40 1158.66,837.40 1159.58,837.40 1160.49,837.40 1161.41,837.40 1162.33,837.40 1163.25,837.40 1164.17,837.40 1165.09,837.40 1166.00,837.40 1166.92,837.40 1167.84,837.40 1168.76,837.40 1169.68,837.40 1170.60,837.40 1171.51,837.40 1172.43,837.40 1173.35,837.40 1174.27,837.40 1175.19,837.40 1176.11,837.40 1177.02,837.40 1177.94,837.40 1178.86,837.40 1179.78,837.40 1180.70,837.40 1181.62,837.40 1182.53,837.40 1183.45,837.40 1184.37,837.40 1185.29,837.40 1186.21,837.40 1187.13,837.40 1188.04,837.40 1188.96,837.40 1189.88,837.40 1190.80,837.40 1191.72,837.40 1192.64,837.40 1193.55,837.40 1194.47,837.40 1195.39,837.40 1196.31,837.40 1197.23,837.40 1198.15,837.40 1199.06,837.40 1199.98,837.40 1200.90,837.40 1201.82,837.40 1202.74,837.40 1203.66,837.40 1204.57,837.40 1205.49,837.40 1206.41,837.40 1207.33,837.40 1208.25,837.40 1209.17,837.40 1210.08,837.40 1211.00,837.40 1211.92,837.40 1212.84,837.40 1213.76,837.40 1214.68,837.40 1215.59,837.40 1216.51,837.40 1217.43,837.40 1218.35,837.40 1219.27,837.40 1220.19,837.40 1221.10,837.40 1222.02,837.40 1222.94,837.40 1223.86,837.40 1224.78,837.40 1225.70,837.40 1226.61,837.40 1227.53,837.40 1228.45,837.40 1229.37,837.40 1230.29,837.40 1231.21,837.40 1232.12,837.40 1233.04,837.40 1233.96,837.40 1234.88,837.40 1235.80,837.40 1236.72,837.40 1237.63,837.40 1238.55,837.40 1239.47,837.40 1240.39,837.40 1241.31,837.40 1242.23,837.40 1243.14,837.40 1244.06,837.40 1244.98,837.40 1245.90,837.40" fill="none" stroke="#5a5a5a" stroke-width="1.8" stroke-linecap="butt" stroke-linejoin="round"/>
<line x1="1018.25" y1="616.50" x2="1018.25" y2="890.00" stroke="#000" stroke-width="3.4" stroke-linecap="round" stroke-dasharray="0.01 9.35"/>
<line x1="1019.40" y1="613.80" x2="1289.00" y2="613.80" stroke="#000" stroke-width="3.4" stroke-linecap="round" stroke-dasharray="0.01 9.37"/>
<polyline points="942.20,834.80 944.16,833.83 946.12,832.84 948.08,831.81 950.04,830.76 952.00,829.68 953.95,828.58 955.91,827.45 957.87,826.29 959.83,825.11 961.79,823.91 963.75,822.68 965.71,821.43 967.67,820.17 969.63,818.88 971.59,817.56 973.55,816.20 975.51,814.80 977.46,813.37 979.42,811.90 981.38,810.40 983.34,808.87 985.30,807.32 987.26,805.76 989.22,804.17 991.18,802.58 993.14,800.97 995.10,799.37 997.06,797.75 999.01,796.13 1000.97,794.47 1002.93,792.79 1004.89,791.09 1006.85,789.37 1008.81,787.63 1010.77,785.89 1012.73,784.14 1014.69,782.38 1016.65,780.63 1018.61,778.88 1020.56,777.13 1022.52,775.36 1024.48,773.58 1026.44,771.79 1028.40,769.99 1030.36,768.19 1032.32,766.40 1034.28,764.61 1036.24,762.83 1038.20,761.07 1040.16,759.32 1042.12,757.60 1044.07,755.93 1046.03,754.31 1047.99,752.68 1049.95,750.97 1051.91,749.16 1053.87,747.30 1055.83,745.41 1057.79,743.47 1059.75,741.51 1061.71,739.51 1063.67,737.48 1065.62,735.42 1067.58,733.34 1069.54,731.23 1071.50,729.10 1073.46,726.95 1075.42,724.78 1077.38,722.59 1079.34,720.39 1081.30,718.18 1083.26,715.95 1085.22,713.72 1087.17,711.47 1089.13,709.23 1091.09,706.98 1093.05,704.72 1095.01,702.47 1096.97,700.22 1098.93,697.98 1100.89,695.74 1102.85,693.50 1104.81,691.28 1106.77,689.07 1108.73,686.88 1110.68,684.69 1112.64,682.53 1114.60,680.39 1116.56,678.26 1118.52,676.17 1120.48,674.09 1122.44,672.04 1124.40,670.01 1126.36,667.98 1128.32,665.97 1130.28,663.95 1132.23,661.95 1134.19,659.95 1136.15,657.96 1138.11,655.98 1140.07,654.00 1142.03,652.03 1143.99,650.06 1145.95,648.10 1147.91,646.15 1149.87,644.19 1151.83,642.25 1153.78,640.30 1155.74,638.36 1157.70,636.43 1159.66,634.50 1161.62,632.57 1163.58,630.64 1165.54,628.72 1167.50,626.80 1169.46,624.88 1171.42,622.96 1173.38,621.05 1175.34,619.13 1177.29,617.22 1179.25,615.31 1181.21,613.40 1183.17,611.48 1185.13,609.57 1187.09,607.66 1189.05,605.75 1191.01,603.84 1192.97,601.92 1194.93,600.01 1196.89,598.09 1198.84,596.17 1200.80,594.25 1202.76,592.33 1204.72,590.40 1206.68,588.47 1208.64,586.54 1210.60,584.60 1212.56,582.67 1214.52,580.73 1216.48,578.79 1218.44,576.86 1220.39,574.92 1222.35,572.99 1224.31,571.06 1226.27,569.12 1228.23,567.19 1230.19,565.26 1232.15,563.33 1234.11,561.40 1236.07,559.46 1238.03,557.53 1239.99,555.60 1241.95,553.67 1243.90,551.74 1245.86,549.81 1247.82,547.89 1249.78,545.96 1251.74,544.03 1253.70,542.10" fill="none" stroke="#000" stroke-width="3.3" stroke-linecap="butt" stroke-linejoin="round"/>
<line x1="942.50" y1="811.00" x2="942.50" y2="880.25" stroke="#000" stroke-width="4.6" stroke-linecap="butt"/>
<line x1="935.80" y1="811.00" x2="949.20" y2="811.00" stroke="#000" stroke-width="5.0" stroke-linecap="butt"/>
<line x1="935.80" y1="880.25" x2="949.20" y2="880.25" stroke="#000" stroke-width="5.0" stroke-linecap="butt"/>
<circle cx="942.50" cy="835.25" r="6.3" fill="#000" stroke="none" stroke-width="0"/>
<line x1="997.00" y1="787.00" x2="997.00" y2="815.00" stroke="#000" stroke-width="4.6" stroke-linecap="butt"/>
<line x1="990.30" y1="787.00" x2="1003.70" y2="787.00" stroke="#000" stroke-width="5.0" stroke-linecap="butt"/>
<line x1="990.30" y1="815.00" x2="1003.70" y2="815.00" stroke="#000" stroke-width="5.0" stroke-linecap="butt"/>
<circle cx="997.00" cy="799.40" r="6.3" fill="#000" stroke="none" stroke-width="0"/>
<line x1="1050.60" y1="741.30" x2="1050.60" y2="759.80" stroke="#000" stroke-width="4.6" stroke-linecap="butt"/>
<line x1="1043.90" y1="741.30" x2="1057.30" y2="741.30" stroke="#000" stroke-width="5.0" stroke-linecap="butt"/>
<line x1="1043.90" y1="759.80" x2="1057.30" y2="759.80" stroke="#000" stroke-width="5.0" stroke-linecap="butt"/>
<circle cx="1050.60" cy="750.40" r="6.3" fill="#000" stroke="none" stroke-width="0"/>
<line x1="1122.00" y1="664.30" x2="1122.00" y2="680.40" stroke="#000" stroke-width="4.6" stroke-linecap="butt"/>
<line x1="1115.30" y1="664.30" x2="1128.70" y2="664.30" stroke="#000" stroke-width="5.0" stroke-linecap="butt"/>
<line x1="1115.30" y1="680.40" x2="1128.70" y2="680.40" stroke="#000" stroke-width="5.0" stroke-linecap="butt"/>
<circle cx="1122.00" cy="672.60" r="6.3" fill="#000" stroke="none" stroke-width="0"/>
<line x1="1210.40" y1="576.00" x2="1210.40" y2="594.20" stroke="#000" stroke-width="4.6" stroke-linecap="butt"/>
<line x1="1203.70" y1="576.00" x2="1217.10" y2="576.00" stroke="#000" stroke-width="5.0" stroke-linecap="butt"/>
<line x1="1203.70" y1="594.20" x2="1217.10" y2="594.20" stroke="#000" stroke-width="5.0" stroke-linecap="butt"/>
<circle cx="1210.40" cy="584.80" r="6.3" fill="#000" stroke="none" stroke-width="0"/>
<line x1="1253.70" y1="534.40" x2="1253.70" y2="549.90" stroke="#000" stroke-width="4.6" stroke-linecap="butt"/>
<line x1="1247.00" y1="534.40" x2="1260.40" y2="534.40" stroke="#000" stroke-width="5.0" stroke-linecap="butt"/>
<line x1="1247.00" y1="549.90" x2="1260.40" y2="549.90" stroke="#000" stroke-width="5.0" stroke-linecap="butt"/>
<circle cx="1253.70" cy="542.10" r="6.3" fill="#000" stroke="none" stroke-width="0"/>
<circle cx="1011.80" cy="559.90" r="6.2" fill="none" stroke="#000" stroke-width="2.7"/>
<circle cx="1051.25" cy="793.25" r="6.2" fill="none" stroke="#000" stroke-width="2.7"/>
<circle cx="1087.50" cy="845.25" r="6.2" fill="none" stroke="#000" stroke-width="2.7"/>
<circle cx="1101.25" cy="871.50" r="6.2" fill="none" stroke="#000" stroke-width="2.7"/>
<circle cx="1119.25" cy="854.75" r="6.2" fill="none" stroke="#000" stroke-width="2.7"/>
<circle cx="1121.75" cy="829.50" r="6.2" fill="none" stroke="#000" stroke-width="2.7"/>
<circle cx="1124.25" cy="811.50" r="6.2" fill="none" stroke="#000" stroke-width="2.7"/>
<circle cx="1130.00" cy="880.75" r="6.2" fill="none" stroke="#000" stroke-width="2.7"/>
<circle cx="1157.00" cy="803.25" r="6.2" fill="none" stroke="#000" stroke-width="2.7"/>
<circle cx="1228.20" cy="803.70" r="6.2" fill="none" stroke="#000" stroke-width="2.7"/>
<line x1="921.25" y1="520.40" x2="921.25" y2="892.90" stroke="#000" stroke-width="4" stroke-linecap="butt"/>
<line x1="1289.20" y1="520.60" x2="1289.20" y2="892.90" stroke="#000" stroke-width="4" stroke-linecap="butt"/>
<line x1="919.25" y1="890.90" x2="1291.20" y2="890.90" stroke="#000" stroke-width="4" stroke-linecap="butt"/>
<line x1="910.25" y1="879.75" x2="921.25" y2="879.75" stroke="#000" stroke-width="4" stroke-linecap="butt"/>
<text transform="translate(907.05 890.25) scale(1 1.04)" font-size="28.7" font-weight="bold" text-anchor="end" fill="#000">1000</text>
<line x1="915.65" y1="843.87" x2="921.25" y2="843.87" stroke="#000" stroke-width="3.0" stroke-linecap="butt"/>
<line x1="915.65" y1="822.88" x2="921.25" y2="822.88" stroke="#000" stroke-width="3.0" stroke-linecap="butt"/>
<line x1="915.65" y1="807.98" x2="921.25" y2="807.98" stroke="#000" stroke-width="3.0" stroke-linecap="butt"/>
<line x1="915.65" y1="796.43" x2="921.25" y2="796.43" stroke="#000" stroke-width="3.0" stroke-linecap="butt"/>
<line x1="915.65" y1="786.99" x2="921.25" y2="786.99" stroke="#000" stroke-width="3.0" stroke-linecap="butt"/>
<line x1="915.65" y1="779.01" x2="921.25" y2="779.01" stroke="#000" stroke-width="3.0" stroke-linecap="butt"/>
<line x1="915.65" y1="772.10" x2="921.25" y2="772.10" stroke="#000" stroke-width="3.0" stroke-linecap="butt"/>
<line x1="915.65" y1="766.00" x2="921.25" y2="766.00" stroke="#000" stroke-width="3.0" stroke-linecap="butt"/>
<line x1="910.25" y1="760.55" x2="921.25" y2="760.55" stroke="#000" stroke-width="4" stroke-linecap="butt"/>
<text transform="translate(907.05 771.05) scale(1 1.04)" font-size="28.7" font-weight="bold" text-anchor="end" fill="#000">10000</text>
<line x1="915.65" y1="724.67" x2="921.25" y2="724.67" stroke="#000" stroke-width="3.0" stroke-linecap="butt"/>
<line x1="915.65" y1="703.68" x2="921.25" y2="703.68" stroke="#000" stroke-width="3.0" stroke-linecap="butt"/>
<line x1="915.65" y1="688.78" x2="921.25" y2="688.78" stroke="#000" stroke-width="3.0" stroke-linecap="butt"/>
<line x1="915.65" y1="677.23" x2="921.25" y2="677.23" stroke="#000" stroke-width="3.0" stroke-linecap="butt"/>
<line x1="915.65" y1="667.79" x2="921.25" y2="667.79" stroke="#000" stroke-width="3.0" stroke-linecap="butt"/>
<line x1="915.65" y1="659.81" x2="921.25" y2="659.81" stroke="#000" stroke-width="3.0" stroke-linecap="butt"/>
<line x1="915.65" y1="652.90" x2="921.25" y2="652.90" stroke="#000" stroke-width="3.0" stroke-linecap="butt"/>
<line x1="915.65" y1="646.80" x2="921.25" y2="646.80" stroke="#000" stroke-width="3.0" stroke-linecap="butt"/>
<line x1="910.25" y1="641.35" x2="921.25" y2="641.35" stroke="#000" stroke-width="4" stroke-linecap="butt"/>
<text transform="translate(907.05 651.85) scale(1 1.04)" font-size="28.7" font-weight="bold" text-anchor="end" fill="#000">100000</text>
<line x1="915.65" y1="605.47" x2="921.25" y2="605.47" stroke="#000" stroke-width="3.0" stroke-linecap="butt"/>
<line x1="915.65" y1="584.48" x2="921.25" y2="584.48" stroke="#000" stroke-width="3.0" stroke-linecap="butt"/>
<line x1="915.65" y1="569.58" x2="921.25" y2="569.58" stroke="#000" stroke-width="3.0" stroke-linecap="butt"/>
<line x1="915.65" y1="558.03" x2="921.25" y2="558.03" stroke="#000" stroke-width="3.0" stroke-linecap="butt"/>
<line x1="915.65" y1="548.59" x2="921.25" y2="548.59" stroke="#000" stroke-width="3.0" stroke-linecap="butt"/>
<line x1="915.65" y1="540.61" x2="921.25" y2="540.61" stroke="#000" stroke-width="3.0" stroke-linecap="butt"/>
<line x1="915.65" y1="533.70" x2="921.25" y2="533.70" stroke="#000" stroke-width="3.0" stroke-linecap="butt"/>
<line x1="915.65" y1="527.60" x2="921.25" y2="527.60" stroke="#000" stroke-width="3.0" stroke-linecap="butt"/>
<line x1="910.25" y1="522.15" x2="921.25" y2="522.15" stroke="#000" stroke-width="4" stroke-linecap="butt"/>
<text transform="translate(907.05 533.65) scale(1 1.04)" font-size="28.7" font-weight="bold" text-anchor="end" fill="#000">1000000</text>
<line x1="915.65" y1="884.00" x2="921.25" y2="884.00" stroke="#000" stroke-width="3.0" stroke-linecap="butt"/>
<line x1="963.75" y1="890.90" x2="963.75" y2="900.90" stroke="#000" stroke-width="4" stroke-linecap="butt"/>
<text transform="translate(963.75 932.00) scale(1 1.04)" font-size="29.5" font-weight="bold" text-anchor="middle" fill="#000">1</text>
<line x1="1105.00" y1="890.90" x2="1105.00" y2="900.90" stroke="#000" stroke-width="4" stroke-linecap="butt"/>
<text transform="translate(1105.00 932.00) scale(1 1.04)" font-size="29.5" font-weight="bold" text-anchor="middle" fill="#000">10</text>
<line x1="1246.25" y1="890.90" x2="1246.25" y2="900.90" stroke="#000" stroke-width="4" stroke-linecap="butt"/>
<text transform="translate(1246.25 932.00) scale(1 1.04)" font-size="29.5" font-weight="bold" text-anchor="middle" fill="#000">100</text>
<line x1="932.41" y1="890.90" x2="932.41" y2="896.50" stroke="#000" stroke-width="3.3" stroke-linecap="butt"/>
<line x1="941.87" y1="890.90" x2="941.87" y2="896.50" stroke="#000" stroke-width="3.3" stroke-linecap="butt"/>
<line x1="950.06" y1="890.90" x2="950.06" y2="896.50" stroke="#000" stroke-width="3.3" stroke-linecap="butt"/>
<line x1="957.29" y1="890.90" x2="957.29" y2="896.50" stroke="#000" stroke-width="3.3" stroke-linecap="butt"/>
<line x1="1006.27" y1="890.90" x2="1006.27" y2="896.50" stroke="#000" stroke-width="3.3" stroke-linecap="butt"/>
<line x1="1031.14" y1="890.90" x2="1031.14" y2="896.50" stroke="#000" stroke-width="3.3" stroke-linecap="butt"/>
<line x1="1048.79" y1="890.90" x2="1048.79" y2="896.50" stroke="#000" stroke-width="3.3" stroke-linecap="butt"/>
<line x1="1062.48" y1="890.90" x2="1062.48" y2="896.50" stroke="#000" stroke-width="3.3" stroke-linecap="butt"/>
<line x1="1073.66" y1="890.90" x2="1073.66" y2="896.50" stroke="#000" stroke-width="3.3" stroke-linecap="butt"/>
<line x1="1083.12" y1="890.90" x2="1083.12" y2="896.50" stroke="#000" stroke-width="3.3" stroke-linecap="butt"/>
<line x1="1091.31" y1="890.90" x2="1091.31" y2="896.50" stroke="#000" stroke-width="3.3" stroke-linecap="butt"/>
<line x1="1098.54" y1="890.90" x2="1098.54" y2="896.50" stroke="#000" stroke-width="3.3" stroke-linecap="butt"/>
<line x1="1147.52" y1="890.90" x2="1147.52" y2="896.50" stroke="#000" stroke-width="3.3" stroke-linecap="butt"/>
<line x1="1172.39" y1="890.90" x2="1172.39" y2="896.50" stroke="#000" stroke-width="3.3" stroke-linecap="butt"/>
<line x1="1190.04" y1="890.90" x2="1190.04" y2="896.50" stroke="#000" stroke-width="3.3" stroke-linecap="butt"/>
<line x1="1203.73" y1="890.90" x2="1203.73" y2="896.50" stroke="#000" stroke-width="3.3" stroke-linecap="butt"/>
<line x1="1214.91" y1="890.90" x2="1214.91" y2="896.50" stroke="#000" stroke-width="3.3" stroke-linecap="butt"/>
<line x1="1224.37" y1="890.90" x2="1224.37" y2="896.50" stroke="#000" stroke-width="3.3" stroke-linecap="butt"/>
<line x1="1232.56" y1="890.90" x2="1232.56" y2="896.50" stroke="#000" stroke-width="3.3" stroke-linecap="butt"/>
<line x1="1239.79" y1="890.90" x2="1239.79" y2="896.50" stroke="#000" stroke-width="3.3" stroke-linecap="butt"/>
<line x1="1289.20" y1="890.60" x2="1298.70" y2="890.60" stroke="#000" stroke-width="4" stroke-linecap="butt"/>
<text transform="translate(1304.40 902.00) scale(1 1.04)" font-size="29.5" font-weight="bold" text-anchor="start" fill="#000">5</text>
<line x1="1289.20" y1="798.62" x2="1298.70" y2="798.62" stroke="#000" stroke-width="4" stroke-linecap="butt"/>
<text transform="translate(1304.40 810.02) scale(1 1.04)" font-size="29.5" font-weight="bold" text-anchor="start" fill="#000">10</text>
<line x1="1289.20" y1="706.65" x2="1298.70" y2="706.65" stroke="#000" stroke-width="4" stroke-linecap="butt"/>
<text transform="translate(1304.40 718.05) scale(1 1.04)" font-size="29.5" font-weight="bold" text-anchor="start" fill="#000">15</text>
<line x1="1289.20" y1="614.67" x2="1298.70" y2="614.67" stroke="#000" stroke-width="4" stroke-linecap="butt"/>
<text transform="translate(1304.40 626.07) scale(1 1.04)" font-size="29.5" font-weight="bold" text-anchor="start" fill="#000">20</text>
<line x1="1289.20" y1="522.70" x2="1298.70" y2="522.70" stroke="#000" stroke-width="4" stroke-linecap="butt"/>
<text transform="translate(1304.40 534.10) scale(1 1.04)" font-size="29.5" font-weight="bold" text-anchor="start" fill="#000">25</text>
<text transform="translate(992.60 843.50) scale(1 1.04)" font-size="21.4" font-weight="bold" text-anchor="middle" fill="#1c1c1c">LOD</text>
<text transform="translate(991.50 868.00) scale(1 1.04)" font-size="21" font-weight="bold" text-anchor="middle" fill="#1c1c1c">1.94</text>
<text transform="translate(1025.75 932.80) scale(1 1.04)" font-size="21" font-weight="bold" text-anchor="middle" fill="#1c1c1c">2.44</text>
<polygon points="996.50,870.60 989.90,886.30 1003.10,886.30" fill="#000" stroke="none" stroke-width="0" stroke-linejoin="miter"/>
<line x1="996.50" y1="886.00" x2="996.50" y2="890.00" stroke="#000" stroke-width="2.4" stroke-linecap="butt"/>
<line x1="1018.25" y1="890.00" x2="1018.25" y2="901.00" stroke="#000" stroke-width="2.6" stroke-linecap="butt"/>
<polygon points="1011.60,899.60 1024.90,899.60 1018.25,915.30" fill="#000" stroke="none" stroke-width="0" stroke-linejoin="miter"/>
<text transform="translate(794.80 702.40) rotate(-90) scale(1 1.04)" font-size="34.5" font-weight="bold" text-anchor="middle" fill="#000">RLU (T40-T0)</text>
<line x1="768.75" y1="574.25" x2="802.00" y2="574.25" stroke="#000" stroke-width="2.8" stroke-linecap="butt"/>
<circle cx="785.00" cy="574.25" r="6.3" fill="#000" stroke="none" stroke-width="0"/>
<text transform="translate(1111.25 975.30) scale(1 1.04)" font-size="34.7" font-weight="bold" text-anchor="middle" fill="#000">AMA in µg/(L*h)</text>
<text transform="translate(1369.50 707.50) rotate(90) scale(1 1.04)" font-size="33" font-weight="bold" text-anchor="middle" fill="#000">CV (%)</text>
<line x1="1367.80" y1="629.80" x2="1395.40" y2="629.80" stroke="#000" stroke-width="2.6" stroke-linecap="butt"/>
<circle cx="1381.60" cy="629.80" r="4.5" fill="#fff" stroke="#000" stroke-width="2.6"/>
<rect x="1459.49" y="64.50" width="10.10" height="334.75" fill="#000" stroke="#000" stroke-width="3.2" stroke-linejoin="round"/>
<rect x="1473.26" y="64.50" width="10.10" height="334.75" fill="#d3d3d3" stroke="#000" stroke-width="3.2" stroke-linejoin="round"/>
<rect x="1487.03" y="64.50" width="10.10" height="334.75" fill="#828282" stroke="#000" stroke-width="3.2" stroke-linejoin="round"/>
<rect x="1500.80" y="64.50" width="10.10" height="334.75" fill="#fff" stroke="#000" stroke-width="3.2" stroke-linejoin="round"/>
<line x1="1527.80" y1="77.40" x2="1527.80" y2="99.80" stroke="#000" stroke-width="3.2" stroke-linecap="butt"/>
<line x1="1525.30" y1="77.50" x2="1530.30" y2="77.50" stroke="#000" stroke-width="3.3" stroke-linecap="butt"/>
<rect x="1522.74" y="100.40" width="10.10" height="298.85" fill="#000" stroke="#000" stroke-width="3.2" stroke-linejoin="round"/>
<line x1="1541.57" y1="69.70" x2="1541.57" y2="86.50" stroke="#000" stroke-width="3.2" stroke-linecap="butt"/>
<line x1="1539.07" y1="69.80" x2="1544.07" y2="69.80" stroke="#000" stroke-width="3.3" stroke-linecap="butt"/>
<rect x="1536.51" y="87.10" width="10.10" height="312.15" fill="#d3d3d3" stroke="#000" stroke-width="3.2" stroke-linejoin="round"/>
<line x1="1555.34" y1="93.50" x2="1555.34" y2="103.40" stroke="#000" stroke-width="3.2" stroke-linecap="butt"/>
<line x1="1552.84" y1="93.60" x2="1557.84" y2="93.60" stroke="#000" stroke-width="3.3" stroke-linecap="butt"/>
<rect x="1550.28" y="104.00" width="10.10" height="295.25" fill="#828282" stroke="#000" stroke-width="3.2" stroke-linejoin="round"/>
<line x1="1569.11" y1="66.10" x2="1569.11" y2="85.70" stroke="#000" stroke-width="3.2" stroke-linecap="butt"/>
<line x1="1566.61" y1="66.20" x2="1571.61" y2="66.20" stroke="#000" stroke-width="3.3" stroke-linecap="butt"/>
<rect x="1564.05" y="86.30" width="10.10" height="312.95" fill="#fff" stroke="#000" stroke-width="3.2" stroke-linejoin="round"/>
<line x1="1591.05" y1="93.60" x2="1591.05" y2="114.25" stroke="#000" stroke-width="3.2" stroke-linecap="butt"/>
<line x1="1588.55" y1="93.70" x2="1593.55" y2="93.70" stroke="#000" stroke-width="3.3" stroke-linecap="butt"/>
<rect x="1585.99" y="114.85" width="10.10" height="284.40" fill="#000" stroke="#000" stroke-width="3.2" stroke-linejoin="round"/>
<line x1="1604.82" y1="78.35" x2="1604.82" y2="99.25" stroke="#000" stroke-width="3.2" stroke-linecap="butt"/>
<line x1="1602.32" y1="78.45" x2="1607.32" y2="78.45" stroke="#000" stroke-width="3.3" stroke-linecap="butt"/>
<rect x="1599.76" y="99.85" width="10.10" height="299.40" fill="#d3d3d3" stroke="#000" stroke-width="3.2" stroke-linejoin="round"/>
<line x1="1618.59" y1="121.60" x2="1618.59" y2="129.75" stroke="#000" stroke-width="3.2" stroke-linecap="butt"/>
<line x1="1616.09" y1="121.70" x2="1621.09" y2="121.70" stroke="#000" stroke-width="3.3" stroke-linecap="butt"/>
<rect x="1613.53" y="130.35" width="10.10" height="268.90" fill="#828282" stroke="#000" stroke-width="3.2" stroke-linejoin="round"/>
<line x1="1632.36" y1="72.35" x2="1632.36" y2="97.25" stroke="#000" stroke-width="3.2" stroke-linecap="butt"/>
<line x1="1629.86" y1="72.45" x2="1634.86" y2="72.45" stroke="#000" stroke-width="3.3" stroke-linecap="butt"/>
<rect x="1627.30" y="97.85" width="10.10" height="301.40" fill="#fff" stroke="#000" stroke-width="3.2" stroke-linejoin="round"/>
<line x1="1654.30" y1="92.85" x2="1654.30" y2="126.00" stroke="#000" stroke-width="3.2" stroke-linecap="butt"/>
<line x1="1651.80" y1="92.95" x2="1656.80" y2="92.95" stroke="#000" stroke-width="3.3" stroke-linecap="butt"/>
<rect x="1649.24" y="126.60" width="10.10" height="272.65" fill="#000" stroke="#000" stroke-width="3.2" stroke-linejoin="round"/>
<line x1="1668.07" y1="93.60" x2="1668.07" y2="112.25" stroke="#000" stroke-width="3.2" stroke-linecap="butt"/>
<line x1="1665.57" y1="93.70" x2="1670.57" y2="93.70" stroke="#000" stroke-width="3.3" stroke-linecap="butt"/>
<rect x="1663.01" y="112.85" width="10.10" height="286.40" fill="#d3d3d3" stroke="#000" stroke-width="3.2" stroke-linejoin="round"/>
<line x1="1681.84" y1="153.35" x2="1681.84" y2="154.00" stroke="#000" stroke-width="3.2" stroke-linecap="butt"/>
<line x1="1679.34" y1="153.45" x2="1684.34" y2="153.45" stroke="#000" stroke-width="3.3" stroke-linecap="butt"/>
<rect x="1676.78" y="154.60" width="10.10" height="244.65" fill="#828282" stroke="#000" stroke-width="3.2" stroke-linejoin="round"/>
<line x1="1695.61" y1="86.10" x2="1695.61" y2="108.50" stroke="#000" stroke-width="3.2" stroke-linecap="butt"/>
<line x1="1693.11" y1="86.20" x2="1698.11" y2="86.20" stroke="#000" stroke-width="3.3" stroke-linecap="butt"/>
<rect x="1690.55" y="109.10" width="10.10" height="290.15" fill="#fff" stroke="#000" stroke-width="3.2" stroke-linejoin="round"/>
<line x1="1717.55" y1="104.10" x2="1717.55" y2="127.75" stroke="#000" stroke-width="3.2" stroke-linecap="butt"/>
<line x1="1715.05" y1="104.20" x2="1720.05" y2="104.20" stroke="#000" stroke-width="3.3" stroke-linecap="butt"/>
<rect x="1712.49" y="128.35" width="10.10" height="270.90" fill="#000" stroke="#000" stroke-width="3.2" stroke-linejoin="round"/>
<line x1="1731.32" y1="98.60" x2="1731.32" y2="116.00" stroke="#000" stroke-width="3.2" stroke-linecap="butt"/>
<line x1="1728.82" y1="98.70" x2="1733.82" y2="98.70" stroke="#000" stroke-width="3.3" stroke-linecap="butt"/>
<rect x="1726.26" y="116.60" width="10.10" height="282.65" fill="#d3d3d3" stroke="#000" stroke-width="3.2" stroke-linejoin="round"/>
<line x1="1745.09" y1="153.35" x2="1745.09" y2="160.25" stroke="#000" stroke-width="3.2" stroke-linecap="butt"/>
<line x1="1742.59" y1="153.45" x2="1747.59" y2="153.45" stroke="#000" stroke-width="3.3" stroke-linecap="butt"/>
<rect x="1740.03" y="160.85" width="10.10" height="238.40" fill="#828282" stroke="#000" stroke-width="3.2" stroke-linejoin="round"/>
<line x1="1758.86" y1="82.85" x2="1758.86" y2="103.50" stroke="#000" stroke-width="3.2" stroke-linecap="butt"/>
<line x1="1756.36" y1="82.95" x2="1761.36" y2="82.95" stroke="#000" stroke-width="3.3" stroke-linecap="butt"/>
<rect x="1753.80" y="104.10" width="10.10" height="295.15" fill="#fff" stroke="#000" stroke-width="3.2" stroke-linejoin="round"/>
<line x1="1780.80" y1="90.85" x2="1780.80" y2="122.25" stroke="#000" stroke-width="3.2" stroke-linecap="butt"/>
<line x1="1778.30" y1="90.95" x2="1783.30" y2="90.95" stroke="#000" stroke-width="3.3" stroke-linecap="butt"/>
<rect x="1775.74" y="122.85" width="10.10" height="276.40" fill="#000" stroke="#000" stroke-width="3.2" stroke-linejoin="round"/>
<line x1="1794.57" y1="101.60" x2="1794.57" y2="123.50" stroke="#000" stroke-width="3.2" stroke-linecap="butt"/>
<line x1="1792.07" y1="101.70" x2="1797.07" y2="101.70" stroke="#000" stroke-width="3.3" stroke-linecap="butt"/>
<rect x="1789.51" y="124.10" width="10.10" height="275.15" fill="#d3d3d3" stroke="#000" stroke-width="3.2" stroke-linejoin="round"/>
<line x1="1808.34" y1="160.85" x2="1808.34" y2="167.75" stroke="#000" stroke-width="3.2" stroke-linecap="butt"/>
<line x1="1805.84" y1="160.95" x2="1810.84" y2="160.95" stroke="#000" stroke-width="3.3" stroke-linecap="butt"/>
<rect x="1803.28" y="168.35" width="10.10" height="230.90" fill="#828282" stroke="#000" stroke-width="3.2" stroke-linejoin="round"/>
<line x1="1822.11" y1="78.35" x2="1822.11" y2="108.50" stroke="#000" stroke-width="3.2" stroke-linecap="butt"/>
<line x1="1819.61" y1="78.45" x2="1824.61" y2="78.45" stroke="#000" stroke-width="3.3" stroke-linecap="butt"/>
<rect x="1817.05" y="109.10" width="10.10" height="290.15" fill="#fff" stroke="#000" stroke-width="3.2" stroke-linejoin="round"/>
<line x1="1844.05" y1="94.60" x2="1844.05" y2="123.70" stroke="#000" stroke-width="3.2" stroke-linecap="butt"/>
<line x1="1841.55" y1="94.70" x2="1846.55" y2="94.70" stroke="#000" stroke-width="3.3" stroke-linecap="butt"/>
<rect x="1838.99" y="124.30" width="10.10" height="274.95" fill="#000" stroke="#000" stroke-width="3.2" stroke-linejoin="round"/>
<line x1="1857.82" y1="106.80" x2="1857.82" y2="120.00" stroke="#000" stroke-width="3.2" stroke-linecap="butt"/>
<line x1="1855.32" y1="106.90" x2="1860.32" y2="106.90" stroke="#000" stroke-width="3.3" stroke-linecap="butt"/>
<rect x="1852.76" y="120.60" width="10.10" height="278.65" fill="#d3d3d3" stroke="#000" stroke-width="3.2" stroke-linejoin="round"/>
<line x1="1871.59" y1="159.20" x2="1871.59" y2="164.40" stroke="#000" stroke-width="3.2" stroke-linecap="butt"/>
<line x1="1869.09" y1="159.30" x2="1874.09" y2="159.30" stroke="#000" stroke-width="3.3" stroke-linecap="butt"/>
<rect x="1866.53" y="165.00" width="10.10" height="234.25" fill="#828282" stroke="#000" stroke-width="3.2" stroke-linejoin="round"/>
<line x1="1885.36" y1="75.10" x2="1885.36" y2="91.25" stroke="#000" stroke-width="3.2" stroke-linecap="butt"/>
<line x1="1882.86" y1="75.20" x2="1887.86" y2="75.20" stroke="#000" stroke-width="3.3" stroke-linecap="butt"/>
<rect x="1880.30" y="91.85" width="10.10" height="307.40" fill="#fff" stroke="#000" stroke-width="3.2" stroke-linejoin="round"/>
<line x1="1907.30" y1="90.60" x2="1907.30" y2="111.00" stroke="#000" stroke-width="3.2" stroke-linecap="butt"/>
<line x1="1904.80" y1="90.70" x2="1909.80" y2="90.70" stroke="#000" stroke-width="3.3" stroke-linecap="butt"/>
<rect x="1902.24" y="111.60" width="10.10" height="287.65" fill="#000" stroke="#000" stroke-width="3.2" stroke-linejoin="round"/>
<line x1="1921.07" y1="109.90" x2="1921.07" y2="112.40" stroke="#000" stroke-width="3.2" stroke-linecap="butt"/>
<line x1="1918.57" y1="110.00" x2="1923.57" y2="110.00" stroke="#000" stroke-width="3.3" stroke-linecap="butt"/>
<rect x="1916.01" y="113.00" width="10.10" height="286.25" fill="#d3d3d3" stroke="#000" stroke-width="3.2" stroke-linejoin="round"/>
<line x1="1934.84" y1="158.30" x2="1934.84" y2="163.50" stroke="#000" stroke-width="3.2" stroke-linecap="butt"/>
<line x1="1932.34" y1="158.40" x2="1937.34" y2="158.40" stroke="#000" stroke-width="3.3" stroke-linecap="butt"/>
<rect x="1929.78" y="164.10" width="10.10" height="235.15" fill="#828282" stroke="#000" stroke-width="3.2" stroke-linejoin="round"/>
<line x1="1948.61" y1="72.60" x2="1948.61" y2="89.40" stroke="#000" stroke-width="3.2" stroke-linecap="butt"/>
<line x1="1946.11" y1="72.70" x2="1951.11" y2="72.70" stroke="#000" stroke-width="3.3" stroke-linecap="butt"/>
<rect x="1943.55" y="90.00" width="10.10" height="309.25" fill="#fff" stroke="#000" stroke-width="3.2" stroke-linejoin="round"/>
<rect x="1454.20" y="62.90" width="20.20" height="336.35" fill="#000" stroke="none" stroke-width="0" rx="0"/>
<line x1="1455.90" y1="62.05" x2="1455.90" y2="400.75" stroke="#000" stroke-width="3.6" stroke-linecap="butt"/>
<line x1="1447.50" y1="399.25" x2="1962.00" y2="399.25" stroke="#000" stroke-width="3" stroke-linecap="butt"/>
<line x1="1447.60" y1="399.25" x2="1455.50" y2="399.25" stroke="#000" stroke-width="3.4" stroke-linecap="butt"/>
<text transform="translate(1443.50 408.55) scale(1 1.04)" font-size="26" font-weight="bold" text-anchor="end" fill="#000">0</text>
<line x1="1447.60" y1="231.50" x2="1455.50" y2="231.50" stroke="#000" stroke-width="3.4" stroke-linecap="butt"/>
<text transform="translate(1443.50 240.80) scale(1 1.04)" font-size="26" font-weight="bold" text-anchor="end" fill="#000">50</text>
<line x1="1447.60" y1="63.75" x2="1455.50" y2="63.75" stroke="#000" stroke-width="3.4" stroke-linecap="butt"/>
<text transform="translate(1443.50 73.05) scale(1 1.04)" font-size="26" font-weight="bold" text-anchor="end" fill="#000">100</text>
<line x1="1485.20" y1="399.25" x2="1485.20" y2="407.25" stroke="#000" stroke-width="3.4" stroke-linecap="butt"/>
<text transform="translate(1485.20 435.80) scale(1 1.04)" font-size="26" font-weight="bold" text-anchor="middle" fill="#000">0</text>
<line x1="1548.45" y1="399.25" x2="1548.45" y2="407.25" stroke="#000" stroke-width="3.4" stroke-linecap="butt"/>
<text transform="translate(1548.45 435.80) scale(1 1.04)" font-size="26" font-weight="bold" text-anchor="middle" fill="#000">1</text>
<line x1="1611.70" y1="399.25" x2="1611.70" y2="407.25" stroke="#000" stroke-width="3.4" stroke-linecap="butt"/>
<text transform="translate(1611.70 435.80) scale(1 1.04)" font-size="26" font-weight="bold" text-anchor="middle" fill="#000">2</text>
<line x1="1674.95" y1="399.25" x2="1674.95" y2="407.25" stroke="#000" stroke-width="3.4" stroke-linecap="butt"/>
<text transform="translate(1674.95 435.80) scale(1 1.04)" font-size="26" font-weight="bold" text-anchor="middle" fill="#000">3</text>
<line x1="1738.20" y1="399.25" x2="1738.20" y2="407.25" stroke="#000" stroke-width="3.4" stroke-linecap="butt"/>
<text transform="translate(1738.20 435.80) scale(1 1.04)" font-size="26" font-weight="bold" text-anchor="middle" fill="#000">4</text>
<line x1="1801.45" y1="399.25" x2="1801.45" y2="407.25" stroke="#000" stroke-width="3.4" stroke-linecap="butt"/>
<text transform="translate(1801.45 435.80) scale(1 1.04)" font-size="26" font-weight="bold" text-anchor="middle" fill="#000">5</text>
<line x1="1864.70" y1="399.25" x2="1864.70" y2="407.25" stroke="#000" stroke-width="3.4" stroke-linecap="butt"/>
<text transform="translate(1864.70 435.80) scale(1 1.04)" font-size="26" font-weight="bold" text-anchor="middle" fill="#000">6</text>
<line x1="1927.95" y1="399.25" x2="1927.95" y2="407.25" stroke="#000" stroke-width="3.4" stroke-linecap="butt"/>
<text transform="translate(1927.95 435.80) scale(1 1.04)" font-size="26" font-weight="bold" text-anchor="middle" fill="#000">7</text>
<text transform="translate(1382.50 222.80) rotate(-90) scale(1 1.04)" font-size="31.5" font-weight="bold" text-anchor="middle" fill="#000">Relative AMA in %</text>
<text transform="translate(1716.40 490.00) scale(1 1.04)" font-size="31.6" font-weight="bold" text-anchor="middle" fill="#000">Days of storage/Number of FT-Cycles</text>
<rect x="1433.70" y="23.10" width="31.20" height="16.20" fill="#000" stroke="#000" stroke-width="3.2" rx="1.5"/>
<text transform="translate(1481.00 39.50) scale(1 1.04)" font-size="24" text-anchor="start" fill="#3c3c3c">4°C</text>
<rect x="1537.70" y="23.10" width="31.20" height="16.20" fill="#d3d3d3" stroke="#000" stroke-width="3.2" rx="1.5"/>
<text transform="translate(1585.50 39.50) scale(1 1.04)" font-size="24" text-anchor="start" fill="#3c3c3c">20°C</text>
<rect x="1664.60" y="23.10" width="31.20" height="16.20" fill="#828282" stroke="#000" stroke-width="3.2" rx="1.5"/>
<text transform="translate(1712.30 39.50) scale(1 1.04)" font-size="24" text-anchor="start" fill="#3c3c3c">37°C</text>
<rect x="1784.10" y="23.10" width="31.20" height="16.20" fill="#fff" stroke="#000" stroke-width="3.2" rx="1.5"/>
<text transform="translate(1832.50 39.50) scale(1 1.04)" font-size="24" text-anchor="start" fill="#3c3c3c">Freeze-Thaw</text>
<line x1="1594.40" y1="827.30" x2="1878.25" y2="577.25" stroke="#5c5c5c" stroke-width="1.8" stroke-linecap="butt"/>
<circle cx="1878.25" cy="546.75" r="6.6" fill="#000" stroke="none" stroke-width="0"/>
<circle cx="1841.75" cy="639.25" r="6.6" fill="#000" stroke="none" stroke-width="0"/>
<circle cx="1719.25" cy="634.25" r="6.6" fill="#000" stroke="none" stroke-width="0"/>
<circle cx="1787.00" cy="658.00" r="6.6" fill="#000" stroke="none" stroke-width="0"/>
<circle cx="1799.25" cy="674.25" r="6.6" fill="#000" stroke="none" stroke-width="0"/>
<circle cx="1693.25" cy="695.25" r="6.6" fill="#000" stroke="none" stroke-width="0"/>
<circle cx="1742.50" cy="709.00" r="6.6" fill="#000" stroke="none" stroke-width="0"/>
<circle cx="1714.50" cy="726.50" r="6.6" fill="#000" stroke="none" stroke-width="0"/>
<circle cx="1706.25" cy="730.25" r="6.6" fill="#000" stroke="none" stroke-width="0"/>
<circle cx="1678.75" cy="739.00" r="6.6" fill="#000" stroke="none" stroke-width="0"/>
<circle cx="1714.25" cy="744.50" r="6.6" fill="#000" stroke="none" stroke-width="0"/>
<circle cx="1650.00" cy="755.25" r="6.6" fill="#000" stroke="none" stroke-width="0"/>
<circle cx="1654.50" cy="756.50" r="6.6" fill="#000" stroke="none" stroke-width="0"/>
<circle cx="1655.00" cy="764.75" r="6.6" fill="#000" stroke="none" stroke-width="0"/>
<circle cx="1684.50" cy="765.25" r="6.6" fill="#000" stroke="none" stroke-width="0"/>
<circle cx="1634.25" cy="805.75" r="6.6" fill="#000" stroke="none" stroke-width="0"/>
<circle cx="1685.00" cy="813.50" r="6.6" fill="#000" stroke="none" stroke-width="0"/>
<circle cx="1593.75" cy="819.00" r="6.6" fill="#000" stroke="none" stroke-width="0"/>
<circle cx="1605.00" cy="819.50" r="6.6" fill="#000" stroke="none" stroke-width="0"/>
<circle cx="1648.00" cy="826.00" r="6.6" fill="#000" stroke="none" stroke-width="0"/>
<line x1="1572.90" y1="520.00" x2="1572.90" y2="887.90" stroke="#000" stroke-width="4" stroke-linecap="butt"/>
<line x1="1570.90" y1="885.90" x2="1938.30" y2="885.90" stroke="#000" stroke-width="4" stroke-linecap="butt"/>
<line x1="1562.90" y1="813.80" x2="1572.90" y2="813.80" stroke="#000" stroke-width="3.8" stroke-linecap="butt"/>
<text transform="translate(1558.30 824.40) scale(1 1.04)" font-size="28.4" font-weight="bold" text-anchor="end" fill="#000">10</text>
<line x1="1562.90" y1="667.84" x2="1572.90" y2="667.84" stroke="#000" stroke-width="3.8" stroke-linecap="butt"/>
<text transform="translate(1558.30 678.44) scale(1 1.04)" font-size="28.4" font-weight="bold" text-anchor="end" fill="#000">14</text>
<line x1="1562.90" y1="521.88" x2="1572.90" y2="521.88" stroke="#000" stroke-width="3.8" stroke-linecap="butt"/>
<text transform="translate(1558.30 532.48) scale(1 1.04)" font-size="28.4" font-weight="bold" text-anchor="end" fill="#000">18</text>
<line x1="1566.90" y1="570.55" x2="1572.90" y2="570.55" stroke="#000" stroke-width="3.6" stroke-linecap="butt"/>
<line x1="1566.90" y1="619.21" x2="1572.90" y2="619.21" stroke="#000" stroke-width="3.6" stroke-linecap="butt"/>
<line x1="1566.90" y1="716.51" x2="1572.90" y2="716.51" stroke="#000" stroke-width="3.6" stroke-linecap="butt"/>
<line x1="1566.90" y1="765.17" x2="1572.90" y2="765.17" stroke="#000" stroke-width="3.6" stroke-linecap="butt"/>
<line x1="1566.90" y1="862.47" x2="1572.90" y2="862.47" stroke="#000" stroke-width="3.6" stroke-linecap="butt"/>
<line x1="1590.00" y1="885.90" x2="1590.00" y2="894.50" stroke="#000" stroke-width="4" stroke-linecap="butt"/>
<text transform="translate(1590.00 926.80) scale(1 1.04)" font-size="29" font-weight="bold" text-anchor="middle" fill="#000">15</text>
<line x1="1676.50" y1="885.90" x2="1676.50" y2="894.50" stroke="#000" stroke-width="4" stroke-linecap="butt"/>
<text transform="translate(1676.50 926.80) scale(1 1.04)" font-size="29" font-weight="bold" text-anchor="middle" fill="#000">20</text>
<line x1="1763.00" y1="885.90" x2="1763.00" y2="894.50" stroke="#000" stroke-width="4" stroke-linecap="butt"/>
<text transform="translate(1763.00 926.80) scale(1 1.04)" font-size="29" font-weight="bold" text-anchor="middle" fill="#000">25</text>
<line x1="1849.50" y1="885.90" x2="1849.50" y2="894.50" stroke="#000" stroke-width="4" stroke-linecap="butt"/>
<text transform="translate(1849.50 926.80) scale(1 1.04)" font-size="29" font-weight="bold" text-anchor="middle" fill="#000">30</text>
<line x1="1936.00" y1="885.90" x2="1936.00" y2="894.50" stroke="#000" stroke-width="4" stroke-linecap="butt"/>
<text transform="translate(1936.00 926.80) scale(1 1.04)" font-size="29" font-weight="bold" text-anchor="middle" fill="#000">35</text>
<line x1="1618.85" y1="885.90" x2="1618.85" y2="890.70" stroke="#000" stroke-width="3.6" stroke-linecap="butt"/>
<line x1="1647.70" y1="885.90" x2="1647.70" y2="890.70" stroke="#000" stroke-width="3.6" stroke-linecap="butt"/>
<line x1="1705.40" y1="885.90" x2="1705.40" y2="890.70" stroke="#000" stroke-width="3.6" stroke-linecap="butt"/>
<line x1="1734.25" y1="885.90" x2="1734.25" y2="890.70" stroke="#000" stroke-width="3.6" stroke-linecap="butt"/>
<line x1="1791.95" y1="885.90" x2="1791.95" y2="890.70" stroke="#000" stroke-width="3.6" stroke-linecap="butt"/>
<line x1="1820.80" y1="885.90" x2="1820.80" y2="890.70" stroke="#000" stroke-width="3.6" stroke-linecap="butt"/>
<line x1="1878.50" y1="885.90" x2="1878.50" y2="890.70" stroke="#000" stroke-width="3.6" stroke-linecap="butt"/>
<line x1="1907.35" y1="885.90" x2="1907.35" y2="890.70" stroke="#000" stroke-width="3.6" stroke-linecap="butt"/>
<text transform="translate(1510.00 691.80) rotate(-90) scale(1 1.04)" font-size="34" font-weight="bold" text-anchor="middle" fill="#000">AMA in µg/(L*h) Serum</text>
<text transform="translate(1762.80 979.50) scale(1 1.04)" font-size="34.15" font-weight="bold" text-anchor="middle" fill="#000">AMA in µg/(L*h) Plasma</text>
</svg>
</body>
</html>
